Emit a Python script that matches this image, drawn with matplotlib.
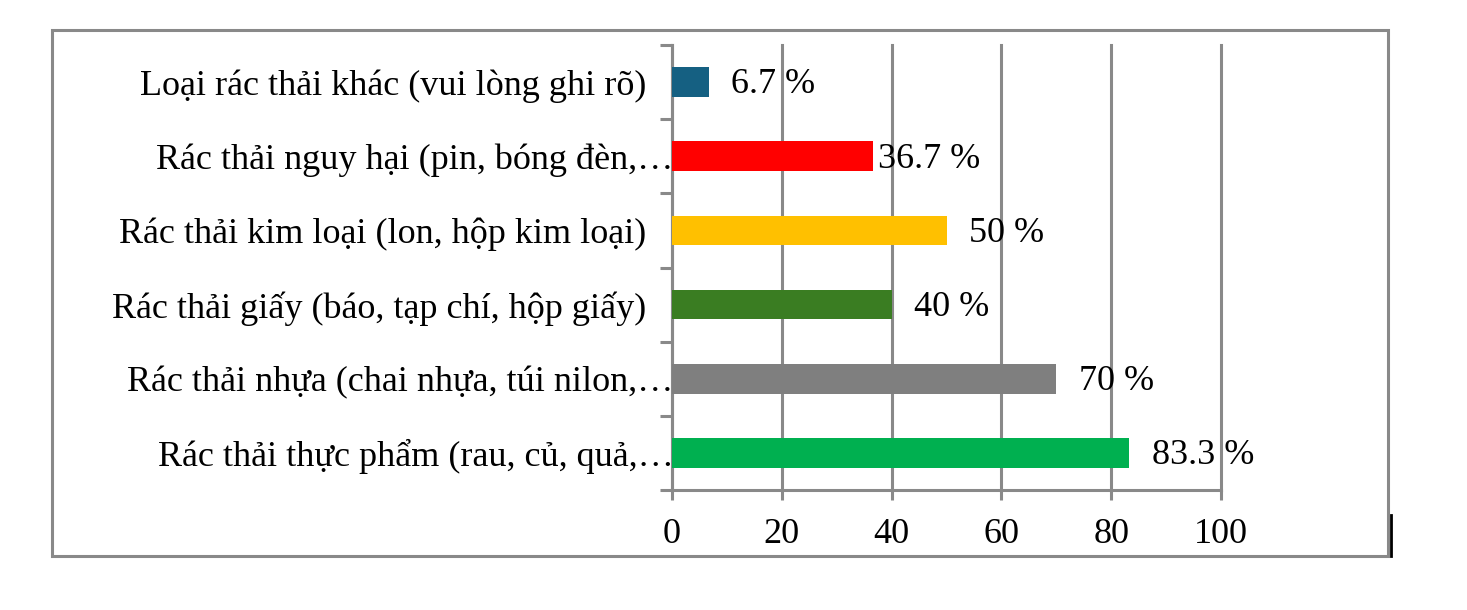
import numpy as np
import matplotlib
matplotlib.use("Agg")
import matplotlib.pyplot as plt
from matplotlib.patches import Rectangle
from matplotlib.lines import Line2D

plt.rcParams['font.family'] = ['Liberation Serif', 'DejaVu Serif']

# data, top to bottom as shown
categories = [
    "Loại rác thải khác (vui lòng ghi rõ)",
    "Rác thải nguy hại (pin, bóng đèn,…",
    "Rác thải kim loại (lon, hộp kim loại)",
    "Rác thải giấy (báo, tạp chí, hộp giấy)",
    "Rác thải nhựa (chai nhựa, túi nilon,…",
    "Rác thải thực phẩm (rau, củ, quả,…",
]
values = [6.7, 36.7, 50, 40, 70, 83.3]
value_labels = ["6.7 %", "36.7 %", "50 %", "40 %", "70 %", "83.3 %"]
x_ticks = [0, 20, 40, 60, 80, 100]

colors = ["#156082", "#FF0000", "#FFC000", "#3A7D22", "#7F7F7F", "#00B050"]
label_offsets = [16, 3.5, 16, 16, 16, 16]   # points
truncated = [False, True, False, False, True, True]
grey = "#898989"
fs = 26

fig = plt.figure(figsize=(14.67, 6.10), dpi=100)
ax = fig.add_axes([672/1467, 1 - 490/610, (1221-672)/1467, (490-45)/610])

y = np.arange(len(categories))
ax.barh(y, values, height=0.4, color=colors, zorder=3)
ax.set_ylim(len(categories) - 0.5, -0.5)
ax.set_xlim(0, 100)

for i, v in enumerate(values):
    ax.annotate(value_labels[i], (v, y[i]), xytext=(label_offsets[i], -2),
                textcoords='offset points', ha='left', va='center',
                fontsize=fs, zorder=4)

# gridlines
ax.set_xticks(x_ticks)
ax.xaxis.grid(True, color=grey, linewidth=2.2, zorder=0)
for gl in ax.get_xgridlines():
    gl.set_clip_on(False)
ax.tick_params(axis='x', length=7, width=2.2, color=grey, labelsize=fs, pad=13)

# y labels at centres, tick marks at boundaries
ax.set_yticks(y)
ax.set_yticklabels([c if t else c + "   " for c, t in zip(categories, truncated)])
ax.tick_params(axis='y', which='major', length=0, labelsize=fs, pad=-1)
ax.set_yticks(np.arange(len(categories) + 1) - 0.5, minor=True)
ax.tick_params(axis='y', which='minor', length=8.5, width=2.2, color=grey)

for s in ['top', 'right']:
    ax.spines[s].set_visible(False)
for s in ['left', 'bottom']:
    ax.spines[s].set_color(grey)
    ax.spines[s].set_linewidth(2.2)

# outer frame
fig.patches.append(Rectangle((52/1467, 1 - 556/610), (1388-52)/1467, (556-30)/610,
                             transform=fig.transFigure, fill=False,
                             edgecolor=grey, linewidth=2.2))
fig.lines.append(Line2D([1391/1467, 1391/1467], [1 - 515/610, 1 - 556/610],
                        transform=fig.transFigure, color='black', linewidth=2))

fig.savefig("out.png", dpi=100)
